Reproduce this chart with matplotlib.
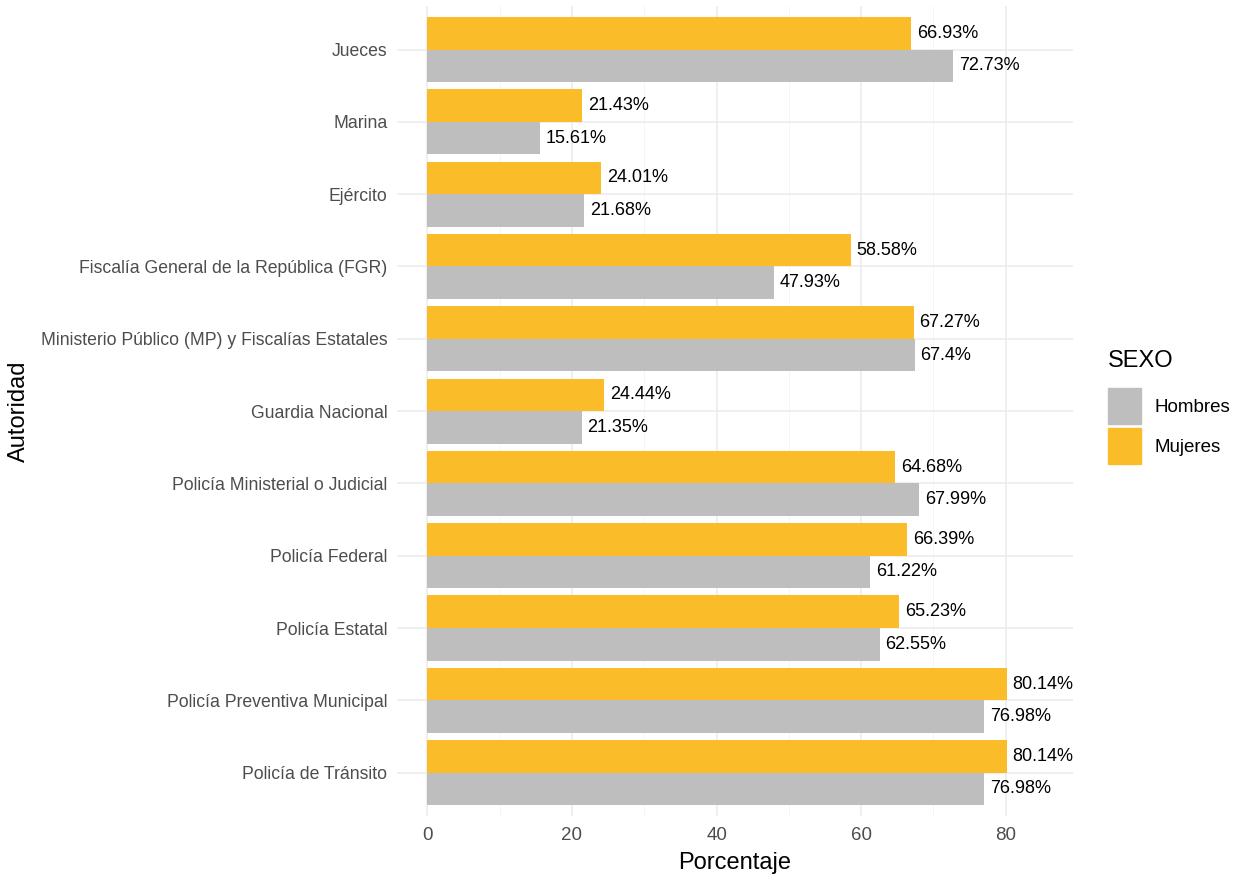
import matplotlib.pyplot as plt
import numpy as np
from matplotlib.patches import Patch

plt.rcParams['font.family'] = ['Liberation Sans Narrow', 'Liberation Sans', 'DejaVu Sans']

autoridades = ['Jueces', 'Marina', 'Ejército', 'Fiscalía General de la República (FGR)',
               'Ministerio Público (MP) y Fiscalías Estatales', 'Guardia Nacional',
               'Policía Ministerial o Judicial', 'Policía Federal', 'Policía Estatal',
               'Policía Preventiva Municipal', 'Policía de Tránsito']
mujeres = [66.93, 21.43, 24.01, 58.58, 67.27, 24.44, 64.68, 66.39, 65.23, 80.14, 80.14]
hombres = [72.73, 15.61, 21.68, 47.93, 67.4, 21.35, 67.99, 61.22, 62.55, 76.98, 76.98]

col_h = '#BEBEBE'
col_m = '#FBBC29'

fig = plt.figure(figsize=(12.35, 8.86), dpi=100)
ax = fig.add_axes([0.3215, 0.079, 0.5473, 0.914])

y = np.arange(len(autoridades))
h = 0.45
ax.barh(y - h / 2, mujeres, height=h, color=col_m, zorder=3)
ax.barh(y + h / 2, hombres, height=h, color=col_h, zorder=3)

def fmt(v):
    s = ('%.2f' % v).rstrip('0').rstrip('.')
    return s + '%'

for i in range(len(autoridades)):
    ax.text(mujeres[i] + 0.8, y[i] - h / 2, fmt(mujeres[i]), va='center', ha='left',
            fontsize=13, color='black', zorder=4)
    ax.text(hombres[i] + 0.8, y[i] + h / 2, fmt(hombres[i]), va='center', ha='left',
            fontsize=13, color='black', zorder=4)

ax.set_ylim(len(autoridades) - 0.4, -0.6)
ax.set_xlim(-4.2, 89.3)
ax.set_yticks(y)
ax.set_yticklabels(autoridades)
ax.set_xticks([0, 20, 40, 60, 80])
ax.set_xticks([10, 30, 50, 70], minor=True)

ax.grid(True, which='major', color='#EBEBEB', linewidth=1.1, zorder=0)
ax.grid(True, which='minor', axis='x', color='#F4F4F4', linewidth=0.6, zorder=0)
for s in ax.spines.values():
    s.set_visible(False)
ax.tick_params(which='both', length=0, labelsize=12.7, labelcolor='#4D4D4D')
ax.tick_params(axis='y', pad=7)
ax.tick_params(axis='x', pad=8, labelsize=13.5)

ax.set_xlabel('Porcentaje', fontsize=17, labelpad=6)
ax.set_ylabel('Autoridad', fontsize=17, labelpad=8)

fig.text(0.897, 0.592, 'SEXO', fontsize=17, va='center', ha='left')
handles = [Patch(color=col_h, label='Hombres'), Patch(color=col_m, label='Mujeres')]
fig.legend(handles=handles, loc='upper left', bbox_to_anchor=(0.897, 0.562),
           frameon=False, fontsize=13.5, handlelength=1.75,
           handleheight=2.6, handletextpad=0.75, labelspacing=0.2, borderpad=0,
           borderaxespad=0)

fig.savefig('out.png', dpi=100)
